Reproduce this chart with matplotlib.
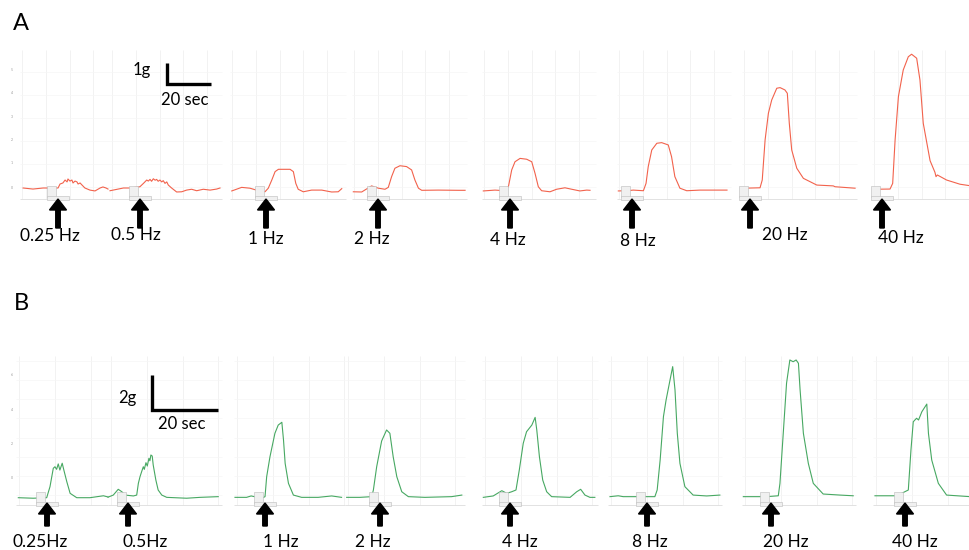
import numpy as np
import matplotlib
matplotlib.use("Agg")
import matplotlib.pyplot as plt
from matplotlib.patches import Rectangle

plt.rcParams['font.family'] = ['Lato', 'DejaVu Sans']

# ---- data: force traces (time s from segment start, force g) ----
# Panel A
a_freqs = ["0.25 Hz", "0.5 Hz", "1 Hz", "2 Hz", "4 Hz", "8 Hz", "20 Hz", "40 Hz"]
a1_t = [1.4, 5.9, 10.5, 17.3, 18.2, 19.5, 20.5, 21.4, 21.8, 22.7, 23.6, 24.1, 25.0, 25.9, 26.4, 27.3, 28.2, 29.5, 31.8, 34.1, 36.4, 37.7, 39.1, 40.0]
a1_g = [0, -0.05, 0, 0, 0.19, 0.24, 0.38, 0.29, 0.43, 0.33, 0.38, 0.24, 0.33, 0.29, 0.19, 0.24, 0.14, 0, -0.1, -0.14, 0, 0.05, 0, -0.05]
a2_t = [0, 6.1, 9.1, 13.6, 15.2, 16.7, 17.4, 18.2, 18.9, 19.7, 20.5, 21.2, 21.9, 22.7, 23.5, 24.2, 25.0, 25.8, 26.5, 28.0, 30.3, 32.6, 34.8, 37.1, 39.4, 42.4, 45.5, 48.5, 50.0]
a2_g = [-0.13, 0, 0, 0.06, 0.22, 0.38, 0.33, 0.41, 0.32, 0.44, 0.37, 0.41, 0.32, 0.38, 0.29, 0.35, 0.22, 0.29, 0.14, 0, -0.19, -0.18, -0.1, -0.06, -0.13, -0.06, -0.1, -0.05, 0]
a3_t = [0.8, 5.3, 9.1, 12.9, 15.9, 17.4, 19.0, 20.5, 22.0, 27.3, 28.8, 29.9, 31.0, 33.3, 37.1, 41.7, 46.2, 49.2, 50.8]
a3_g = [-0.14, 0.03, -0.01, -0.13, -0.18, -0.01, 0.38, 0.78, 0.89, 0.89, 0.78, 0.22, -0.06, -0.18, -0.1, -0.1, -0.19, -0.18, -0.03]
a4_t = [0.6, 4.4, 8.9, 12.0, 15.0, 16.5, 18.0, 19.5, 21.8, 24.8, 27.1, 28.6, 30.2, 31.7, 39.2, 48.3, 51.4]
a4_g = [-0.18, -0.19, 0.1, -0.01, -0.06, 0.03, 0.54, 0.94, 1.06, 1.02, 0.86, 0.38, -0.01, -0.11, -0.1, -0.11, -0.11]
a5_t = [0.6, 5.9, 10.5, 12.0, 13.5, 15.0, 17.3, 20.3, 22.6, 24.1, 25.6, 27.1, 30.9, 33.9, 37.7, 40.8, 44.5, 47.6, 49.1]
a5_g = [-0.14, -0.1, -0.13, 0.06, 0.86, 1.25, 1.41, 1.37, 1.25, 0.70, 0.06, -0.13, -0.18, -0.06, 0.01, -0.06, -0.14, -0.1, -0.11]
a6_t = [0.6, 4.4, 7.4, 12.0, 13.2, 14.2, 15.8, 18.1, 20.3, 23.3, 24.8, 26.3, 28.6, 31.7, 37.7, 50.0]
a6_g = [-0.14, -0.13, -0.1, -0.13, 0.22, 1.02, 1.81, 2.13, 2.16, 2.05, 1.49, 0.54, -0.01, -0.13, -0.1, -0.1]
a7_t = [0.6, 8.2, 9.2, 10.5, 12.0, 13.5, 15.8, 17.3, 19.5, 20.6, 21.5, 22.6, 24.9, 27.9, 34.0, 41.5, 42.3, 51.4]
a7_g = [-0.01, 0.01, 0.38, 2.29, 3.56, 4.19, 4.75, 4.78, 4.67, 4.51, 3.08, 1.81, 0.94, 0.46, 0.14, 0.1, 0.06, -0.01]
a8_t = [0.6, 8.2, 9.4, 10.5, 12.0, 14.2, 16.5, 18.0, 20.3, 21.8, 23.3, 26.4, 28.6, 29.1, 29.7, 33.9, 40.0, 44.5]
a8_g = [-0.06, -0.05, 0.22, 2.29, 4.35, 5.62, 6.25, 6.37, 6.18, 5.14, 3.08, 1.3, 0.75, 0.54, 0.62, 0.38, 0.18, 0.11]

# Panel B
b_freqs = ["0.25Hz", "0.5Hz", "1 Hz", "2 Hz", "4 Hz", "8 Hz", "20 Hz", "40 Hz"]
b1_t = [0.7, 5.2, 9.3, 10.3, 11.3, 11.8, 12.3, 12.8, 13.3, 14.0, 14.5, 15.4, 16.4, 18.4, 22.4, 26.5, 27.9]
b1_g = [-0.04, -0.07, -0.04, 0.59, 1.64, 1.73, 1.58, 1.89, 1.54, 1.93, 1.54, 0.87, 0.21, -0.04, -0.04, 0.07, 0]
b2_t = [0, 1.6, 3.1, 4.2, 5.2, 7.7, 8.7, 9.2, 9.7, 10.2, 10.7, 11.0, 11.5, 11.9, 12.4, 12.7, 13.0, 13.4, 13.7, 14.5, 15.2, 16.3, 17.8, 23.8, 27.9, 33.4]
b2_g = [-0.01, 0.11, 0.44, 0.3, 0.11, 0.06, 0.11, 0.78, 1.16, 1.45, 1.73, 1.58, 1.96, 1.77, 2.21, 2.07, 2.4, 2.34, 1.83, 0.97, 0.4, 0.11, -0.02, -0.07, -0.02, 0.02]
b3_t = [0.3, 3.8, 5.2, 8.4, 9.4, 9.9, 10.9, 12.4, 13.4, 14.5, 15.0, 15.5, 16.5, 18.0, 20.5, 25.5, 29.6, 32.6]
b3_g = [-0.02, -0.02, 0.06, -0.07, 0.02, 1.16, 2.3, 3.64, 4.11, 4.27, 3.26, 1.92, 0.78, 0.11, -0.02, -0.02, 0.06, -0.02]
b4_t = [0.5, 4.5, 8.1, 8.6, 9.6, 11.1, 12.6, 13.6, 14.6, 15.7, 17.2, 19.2, 24.2, 32.3, 35.4]
b4_g = [-0.02, -0.02, 0.02, 0.4, 1.73, 3.2, 3.83, 3.64, 2.3, 1.16, 0.3, 0.02, -0.02, 0.02, 0.11]
b5_t = [0.4, 3.4, 6.0, 7.5, 9.0, 10.3, 11.3, 12.5, 13.5, 15.1, 16.1, 16.6, 17.4, 18.4, 19.6, 21.1, 26.7, 28.7, 29.9, 31.2, 32.7, 34.2]
b5_g = [-0.02, 0.06, 0.36, 0.21, 0.3, 0.4, 1.54, 3.07, 3.73, 4.11, 4.55, 3.83, 2.3, 0.97, 0.3, 0.02, -0.02, 0.3, 0.44, 0.11, -0.02, -0.02]
b6_t = [0.6, 3.1, 4.6, 10.7, 14.2, 14.9, 15.8, 16.8, 17.6, 18.6, 19.6, 20.3, 21.0, 21.8, 23.3, 25.8, 29.9, 33.9]
b6_g = [0.02, 0.07, 0.02, 0.02, 0.02, 0.4, 2.11, 4.59, 5.54, 6.5, 7.45, 6.13, 3.64, 1.92, 0.59, 0.11, 0.06, 0.11]
b7_t = [0.4, 7.5, 11.0, 11.5, 12.5, 13.5, 14.5, 15.5, 16.4, 17.1, 17.6, 18.6, 20.1, 21.6, 24.6, 29.7, 33.7]
b7_g = [0.02, 0.02, 0.07, 0.78, 3.64, 6.5, 7.83, 7.73, 7.83, 7.64, 6.13, 3.64, 1.92, 0.78, 0.17, 0.11, 0.07]
b8_t = [0.6, 7.2, 10.7, 11.5, 12.2, 13.2, 13.8, 14.8, 16.3, 16.8, 17.8, 19.8, 22.3, 29.4]
b8_g = [0.07, 0.07, 0.4, 2.68, 4.3, 4.5, 4.4, 4.87, 5.31, 3.64, 2.11, 0.78, 0.11, 0.02]

a_traces = [(a1_t, a1_g), (a2_t, a2_g), (a3_t, a3_g), (a4_t, a4_g),
            (a5_t, a5_g), (a6_t, a6_g), (a7_t, a7_g), (a8_t, a8_g)]
b_traces = [(b1_t, b1_g), (b2_t, b2_g), (b3_t, b3_g), (b4_t, b4_g),
            (b5_t, b5_g), (b6_t, b6_g), (b7_t, b7_g), (b8_t, b8_g)]

# ---- layout (pixels of a 970x550 image) ----
W, H = 970, 550
panels = {
    "A": dict(traces=a_traces, labels=a_freqs, color="#f2624c",
              px_s=2.2, px_g=21.0, base=188, top=45, bottom=205,
              grid_top=50, grid_bot=199,
              seg=[(20, 110), (110, 222), (230, 346), (352, 467),
                   (482, 596), (617, 731), (742, 857), (872, 970)],
              arrows=[58, 140, 266, 378, 510, 632, 750, 882],
              arrow_y=(228, 199),
              label_x=[50, 136, 266, 372, 508, 638, 785, 901],
              label_y=[236, 235, 239, 239, 240, 241, 235, 238],
              scale=(167, 84, 1, "1g", (142, 70), (185, 100)),
              letter=(21, 24), ticks=[("5", 70), ("4", 93), ("3", 117), ("2", 140), ("1", 163), ("0", 188)]),
    "B": dict(traces=b_traces, labels=b_freqs, color="#47a862",
              px_s=3.3, px_g=17.5, base=497, top=345, bottom=515,
              grid_top=356, grid_bot=505,
              seg=[(16, 108), (108, 222), (234, 345), (345, 465),
                   (482, 598), (608, 722), (742, 856), (873, 970)],
              arrows=[47, 128, 265, 380, 510, 647, 771, 905],
              arrow_y=(526, 503),
              label_x=[40, 145, 281, 373, 520, 650, 786, 915],
              label_y=[542, 542, 542, 542, 542, 542, 542, 542],
              scale=(152, 410, 2, "2g", (127, 398), (182, 424)),
              letter=(21, 303), ticks=[("6", 375), ("4", 410), ("2", 444), ("0", 478)]),
}

fig = plt.figure(figsize=(W / 100, H / 100), dpi=100)
ov = fig.add_axes([0, 0, 1, 1], zorder=5)
ov.set_xlim(0, W)
ov.set_ylim(H, 0)
ov.axis("off")
ov.patch.set_alpha(0)

for name, p in panels.items():
    ax = fig.add_axes([0, 1 - p["bottom"] / H, 1, (p["bottom"] - p["top"]) / H])
    ax.set_xlim(0, W / p["px_s"])
    ax.set_ylim((p["base"] - p["bottom"]) / p["px_g"], (p["base"] - p["top"]) / p["px_g"])
    ax.axis("off")
    g_top = (p["base"] - p["grid_top"]) / p["px_g"]
    g_bot = (p["base"] - p["grid_bot"]) / p["px_g"]

    for (x0, x1), (t, g) in zip(p["seg"], p["traces"]):
        s0, s1 = x0 / p["px_s"], x1 / p["px_s"]
        # faint grid per recording segment
        ax.vlines(np.arange(s0 + 1, s1, 10.8), g_bot, g_top, color="#f0f0f0", lw=0.6, zorder=0)
        ax.hlines(np.arange(g_bot + 0.55, g_top, 1.1), s0, s1, color="#f6f6f6", lw=0.5, zorder=0)
        ax.hlines(g_bot, s0, s1, color="#dddddd", lw=0.6, zorder=0)
        ax.plot(s0 + np.array(t), g, color=p["color"], lw=0.8, zorder=2)

    # scale bar
    sx, sy, sg, glab, gpos, spos = p["scale"]
    xs, ys = sx / p["px_s"], (p["base"] - sy) / p["px_g"]
    ax.plot([xs, xs, xs + 20], [ys + sg, ys, ys], color="black", lw=2.4,
            solid_joinstyle="miter", solid_capstyle="butt", zorder=3)
    ov.text(gpos[0], gpos[1], glab, ha="center", va="center", fontsize=12)
    ov.text(spos[0], spos[1], "20 sec", ha="center", va="center", fontsize=12)

    # panel letter and tiny y tick labels
    ov.text(p["letter"][0], p["letter"][1], name, ha="center", va="center", fontsize=17)
    for lab, ty in p["ticks"]:
        ov.text(12, ty, lab, ha="center", va="center", fontsize=2.5, color="#999999")

    # stimulus markers, arrows and labels
    y_tail, y_tip = p["arrow_y"]
    for xa, lab, lx, ly in zip(p["arrows"], p["labels"], p["label_x"], p["label_y"]):
        ov.add_patch(Rectangle((xa - 11, p["grid_bot"] - 13), 9, 11, fc="#f0f0f0", ec="#bbbbbb", lw=0.4))
        ov.add_patch(Rectangle((xa - 11, p["grid_bot"] - 3), 22, 4, fc="#f0f0f0", ec="#bbbbbb", lw=0.4))
        ov.arrow(xa, y_tail, 0, y_tip - y_tail, width=4.5, head_width=17, head_length=11,
                 length_includes_head=True, color="black")
        ov.text(lx, ly, lab, ha="center", va="center", fontsize=12.5)

fig.savefig("out.png", dpi=100)
